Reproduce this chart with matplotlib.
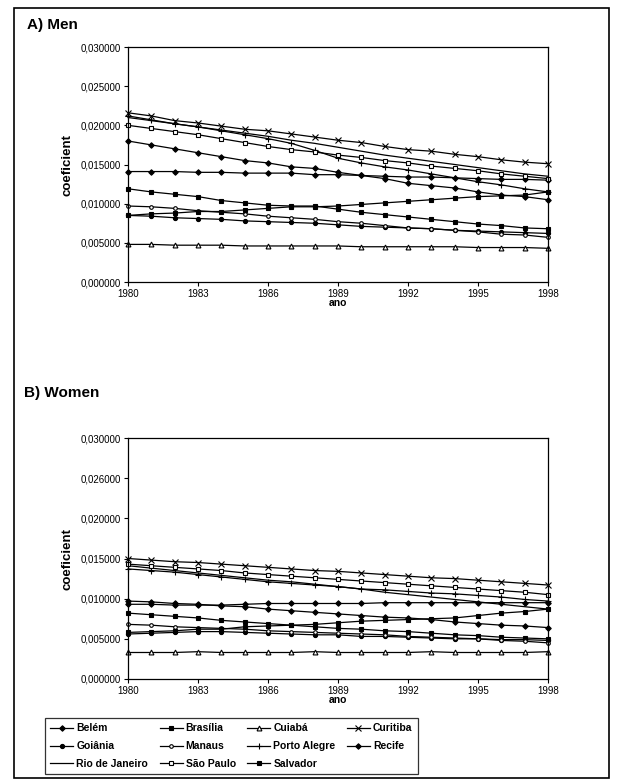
import numpy as np
import matplotlib.pyplot as plt
from matplotlib.patches import Rectangle
from matplotlib.lines import Line2D

plt.rcParams['font.family'] = ['Liberation Sans', 'DejaVu Sans']

years = list(range(1980, 1999))

# --- A) Men
men = {
    'Belém': [0.0180, 0.0175, 0.0170, 0.0165, 0.0160, 0.0155, 0.0152, 0.0147, 0.0145, 0.0140,
              0.0136, 0.0132, 0.0126, 0.0123, 0.0120, 0.0115, 0.0111, 0.0109, 0.0105],
    'Brasília': [0.0119, 0.0115, 0.0112, 0.0109, 0.0104, 0.0101, 0.0098, 0.0097, 0.0097, 0.0093,
                 0.0089, 0.0086, 0.0083, 0.0080, 0.0077, 0.0074, 0.0072, 0.0069, 0.0068],
    'Cuiabá': [0.0048, 0.0048, 0.0047, 0.0047, 0.0047, 0.0046, 0.0046, 0.0046, 0.0046, 0.0046,
               0.0045, 0.0045, 0.0045, 0.0045, 0.0045, 0.0044, 0.0044, 0.0044, 0.0043],
    'Curitiba': [0.0216, 0.0212, 0.0206, 0.0203, 0.0199, 0.0195, 0.0193, 0.0189, 0.0185, 0.0181,
                 0.0178, 0.0173, 0.0169, 0.0167, 0.0163, 0.0160, 0.0156, 0.0153, 0.0151],
    'Goiânia': [0.0085, 0.0084, 0.0082, 0.0081, 0.0080, 0.0078, 0.0077, 0.0076, 0.0075, 0.0073,
                0.0071, 0.0070, 0.0069, 0.0068, 0.0066, 0.0065, 0.0064, 0.0063, 0.0062],
    'Manaus': [0.0097, 0.0096, 0.0094, 0.0091, 0.0089, 0.0087, 0.0084, 0.0082, 0.0080, 0.0077,
               0.0075, 0.0072, 0.0069, 0.0068, 0.0066, 0.0064, 0.0061, 0.0060, 0.0057],
    'Porto Alegre': [0.0212, 0.0207, 0.0202, 0.0198, 0.0193, 0.0188, 0.0183, 0.0177, 0.0168, 0.0158,
                     0.0152, 0.0147, 0.0143, 0.0138, 0.0133, 0.0128, 0.0124, 0.0119, 0.0115],
    'Recife': [0.0141, 0.0141, 0.0141, 0.0140, 0.0140, 0.0139, 0.0139, 0.0139, 0.0137, 0.0137,
               0.0136, 0.0135, 0.0134, 0.0134, 0.0133, 0.0132, 0.0131, 0.0131, 0.0130],
    'Rio de Janeiro': [0.0210, 0.0206, 0.0202, 0.0198, 0.0194, 0.0190, 0.0186, 0.0181, 0.0177, 0.0172,
                       0.0167, 0.0162, 0.0158, 0.0154, 0.0150, 0.0146, 0.0142, 0.0138, 0.0135],
    'São Paulo': [0.0200, 0.0196, 0.0192, 0.0188, 0.0183, 0.0178, 0.0173, 0.0169, 0.0166, 0.0162,
                  0.0159, 0.0155, 0.0152, 0.0148, 0.0145, 0.0142, 0.0138, 0.0135, 0.0132],
    'Salvador': [0.0085, 0.0087, 0.0088, 0.0090, 0.0090, 0.0092, 0.0094, 0.0096, 0.0096, 0.0097,
                 0.0099, 0.0101, 0.0103, 0.0105, 0.0107, 0.0109, 0.0110, 0.0111, 0.0115],
}

# --- B) Women
women = {
    'Belém': [0.0093, 0.0093, 0.0092, 0.0092, 0.0092, 0.0093, 0.0094, 0.0094, 0.0094, 0.0094,
              0.0094, 0.0095, 0.0095, 0.0095, 0.0095, 0.0095, 0.0095, 0.0095, 0.0095],
    'Brasília': [0.0082, 0.0080, 0.0078, 0.0076, 0.0073, 0.0071, 0.0069, 0.0067, 0.0065, 0.0063,
                 0.0062, 0.0060, 0.0059, 0.0057, 0.0055, 0.0054, 0.0052, 0.0051, 0.0050],
    'Cuiabá': [0.0033, 0.0033, 0.0033, 0.0034, 0.0033, 0.0033, 0.0033, 0.0033, 0.0034, 0.0033,
               0.0033, 0.0033, 0.0033, 0.0034, 0.0033, 0.0033, 0.0033, 0.0033, 0.0034],
    'Curitiba': [0.0150, 0.0148, 0.0146, 0.0145, 0.0143, 0.0141, 0.0139, 0.0137, 0.0135, 0.0134,
                 0.0132, 0.0130, 0.0128, 0.0126, 0.0125, 0.0123, 0.0121, 0.0119, 0.0117],
    'Goiânia': [0.0056, 0.0057, 0.0058, 0.0059, 0.0059, 0.0058, 0.0057, 0.0056, 0.0055, 0.0055,
                0.0053, 0.0053, 0.0052, 0.0051, 0.0050, 0.0050, 0.0049, 0.0049, 0.0048],
    'Manaus': [0.0068, 0.0067, 0.0065, 0.0064, 0.0063, 0.0062, 0.0060, 0.0059, 0.0058, 0.0057,
               0.0056, 0.0055, 0.0053, 0.0052, 0.0051, 0.0050, 0.0048, 0.0047, 0.0045],
    'Porto Alegre': [0.0137, 0.0135, 0.0133, 0.0130, 0.0127, 0.0124, 0.0121, 0.0119, 0.0117, 0.0115,
                     0.0112, 0.0111, 0.0109, 0.0107, 0.0106, 0.0104, 0.0102, 0.0099, 0.0097],
    'Recife': [0.0097, 0.0096, 0.0094, 0.0093, 0.0091, 0.0090, 0.0087, 0.0085, 0.0083, 0.0081,
               0.0079, 0.0077, 0.0076, 0.0074, 0.0071, 0.0069, 0.0067, 0.0066, 0.0064],
    'Rio de Janeiro': [0.0141, 0.0138, 0.0135, 0.0132, 0.0129, 0.0126, 0.0123, 0.0121, 0.0118, 0.0115,
                       0.0112, 0.0108, 0.0105, 0.0102, 0.0099, 0.0096, 0.0093, 0.0090, 0.0087],
    'São Paulo': [0.0143, 0.0141, 0.0139, 0.0137, 0.0135, 0.0132, 0.0130, 0.0128, 0.0126, 0.0124,
                  0.0122, 0.0120, 0.0118, 0.0116, 0.0114, 0.0112, 0.0110, 0.0108, 0.0105],
    'Salvador': [0.0058, 0.0059, 0.0060, 0.0062, 0.0062, 0.0065, 0.0066, 0.0067, 0.0068, 0.0070,
                 0.0072, 0.0073, 0.0074, 0.0075, 0.0076, 0.0079, 0.0082, 0.0084, 0.0087],
}

yticks = [0, 0.005, 0.010, 0.015, 0.020, 0.025, 0.030]
ytick_labels_a = ['0,000000', '0,005000', '0,010000', '0,015000', '0,020000', '0,025000', '0,030000']
ytick_labels_b = ['0,000000', '0,005000', '0,010000', '0,015000', '0,020000', '0,026000', '0,030000']
xticks = [1980, 1983, 1986, 1989, 1992, 1995, 1998]

# marker style per city: (marker, size, face)
styles = {
    'Belém': ('D', 2.8, 'black'),
    'Brasília': ('s', 3.0, 'black'),
    'Cuiabá': ('^', 3.5, 'white'),
    'Curitiba': ('x', 4.0, 'black'),
    'Goiânia': ('o', 3.0, 'black'),
    'Manaus': ('o', 2.6, 'white'),
    'Porto Alegre': ('+', 4.5, 'black'),
    'Recife': ('D', 2.8, 'black'),
    'Rio de Janeiro': ('None', 0, 'black'),
    'São Paulo': ('s', 3.3, 'white'),
    'Salvador': ('s', 3.0, 'black'),
}

fig = plt.figure(figsize=(6.2, 7.81), dpi=100)

# outer frame
fig.patches.append(Rectangle((14 / 620, 1 - 778 / 781), 595 / 620, 770 / 781,
                             transform=fig.transFigure, fill=False, lw=1.2, ec='black'))


def draw(ax, data, ylabels):
    for city, vals in data.items():
        m, s, fc = styles[city]
        ax.plot(years, vals, color='black', lw=0.9, marker=m, ms=s,
                mfc=fc, mec='black', mew=0.8, label=city, clip_on=False)
    ax.set_xlim(1980, 1998)
    ax.set_ylim(0, 0.03)
    ax.set_xticks(xticks)
    ax.set_xticklabels([str(x) for x in xticks], fontsize=7)
    ax.set_yticks(yticks)
    ax.set_yticklabels(ylabels, fontsize=7)
    ax.tick_params(length=3, width=0.8, pad=2)
    for sp in ax.spines.values():
        sp.set_linewidth(0.9)
    ax.set_xlabel('ano', fontsize=7.5, fontweight='bold', labelpad=-1)
    ax.set_ylabel('coeficient', fontsize=9.5, fontweight='bold', labelpad=5)


ax1 = fig.add_axes([128 / 620, 1 - 282 / 781, 420 / 620, 235 / 781])
draw(ax1, men, ytick_labels_a)
ax2 = fig.add_axes([128 / 620, 1 - 679 / 781, 420 / 620, 241 / 781])
draw(ax2, women, ytick_labels_b)

fig.text(27 / 620, 1 - 25 / 781, 'A) Men', fontsize=11, fontweight='bold', va='center')
fig.text(24 / 620, 1 - 393 / 781, 'B) Women', fontsize=11, fontweight='bold', va='center')

# legend, filled row by row
order = ['Belém', 'Goiânia', 'Rio de Janeiro',
         'Brasília', 'Manaus', 'São Paulo',
         'Cuiabá', 'Porto Alegre', 'Salvador',
         'Curitiba', 'Recife']
handles = []
for city in order:
    m, s, fc = styles[city]
    handles.append(Line2D([], [], color='black', lw=0.9, marker=m, ms=s,
                          mfc=fc, mec='black', mew=0.8))
leg = fig.legend(handles, order, ncol=4, loc='upper left',
                 bbox_to_anchor=(40 / 620, 1 - 713 / 781),
                 fontsize=7.5, frameon=True, fancybox=False, edgecolor='black',
                 handlelength=2.2, handletextpad=0.3, columnspacing=1.1,
                 labelspacing=0.75, borderpad=0.5)
leg.get_frame().set_linewidth(0.9)
for t in leg.get_texts():
    t.set_fontweight('bold')

plt.savefig('out.png', dpi=100)
